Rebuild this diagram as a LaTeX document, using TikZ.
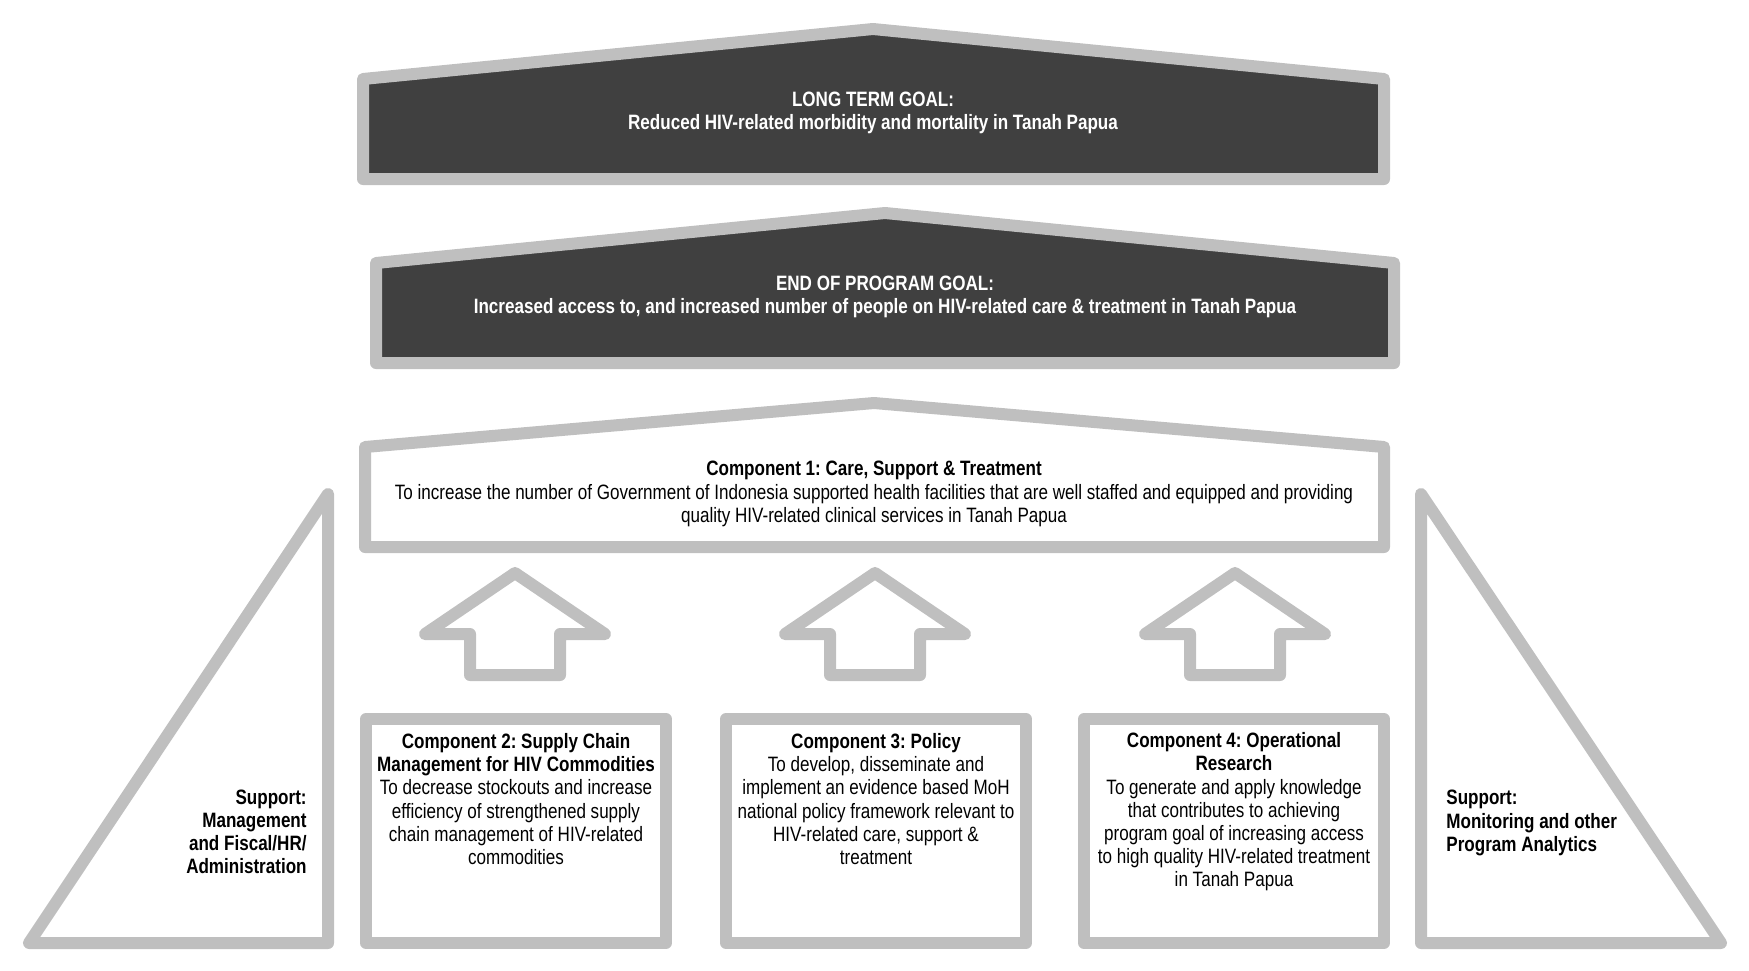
\documentclass[tikz,border=0pt]{standalone}
\usepackage{fontspec}
\setmainfont{Liberation Sans}[FakeStretch=0.82]
\frenchspacing
\definecolor{rim}{HTML}{BFBFBF}
\definecolor{darkfill}{HTML}{404040}
\tikzset{
  rimline/.style={draw=rim, line width=6pt, line join=round},
  darkbox/.style={rimline, fill=darkfill},
  whitebox/.style={rimline, fill=white},
  txt/.style={inner sep=0pt, align=center, font=\fontsize{10.4}{11.6}\selectfont},
  txtw/.style={txt, text=white, font=\fontsize{10.4}{11.6}\selectfont\bfseries},
  txtb/.style={txt, font=\fontsize{10.4}{11.6}\selectfont\bfseries},
}
\begin{document}
\begin{tikzpicture}[x=0.5pt,y=-0.5pt]
\useasboundingbox (0,0) rectangle (1749,970);
% long term goal
\draw[darkbox] (363,179) -- (363,79) -- (873,29) -- (1384,79) -- (1384,179) -- cycle;
\node[txtw] (ltg) at (873,113) {LONG TERM GOAL:\\Reduced HIV-related morbidity and mortality in Tanah Papua};
% end of program goal
\draw[darkbox] (376,363) -- (376,263) -- (885,213) -- (1394,263) -- (1394,363) -- cycle;
\node[txtw] (epg) at (885,297) {END OF PROGRAM GOAL:\\Increased access to, and increased number of people on HIV-related care \& treatment in Tanah Papua};
% component 1
\draw[whitebox] (365,547) -- (365,447) -- (874,403) -- (1384,447) -- (1384,547) -- cycle;
\node[txt] (c1) at (874,494) {\textbf{Component 1: Care, Support \& Treatment}\\To increase the number of Government of Indonesia supported health facilities that are well staffed and equipped and providing\\quality HIV-related clinical services in Tanah Papua};
% arrows
\foreach \cx in {515,875,1235}{
  \draw[rimline] (\cx,573) -- (\cx+90,634) -- (\cx+45,634) -- (\cx+45,675) -- (\cx-45,675) -- (\cx-45,634) -- (\cx-90,634) -- cycle;
}
% bottom boxes
\draw[whitebox] (366,719) rectangle (666,943);
\draw[whitebox] (726,719) rectangle (1026,943);
\draw[whitebox] (1084,719) rectangle (1384,943);
\node[txt] (c2) at (516,799) {\textbf{Component 2: Supply Chain}\\\textbf{Management for HIV Commodities}\\To decrease stockouts and increase\\efficiency of strengthened supply\\chain management of HIV-related\\commodities};
\node[txt] (c3) at (876,799) {\textbf{Component 3: Policy}\\To develop, disseminate and\\implement an evidence based MoH\\national policy framework relevant to\\HIV-related care, support \&\\treatment};
\node[txt] (c4) at (1234,812) {\textbf{Component 4: Operational}\\\textbf{Research}\\To generate and apply knowledge\\that contributes to achieving\\program goal of increasing access\\to high quality HIV-related treatment\\in Tanah Papua};
% support triangles
\draw[whitebox] (29,943) -- (328,494) -- (328,943) -- cycle;
\draw[whitebox] (1421,943) -- (1421,494) -- (1721,943) -- cycle;
\node[txtb, align=right, anchor=east] (s1) at (307,832) {Support:\\Management\\and Fiscal/HR/\\Administration};
\node[txtb, align=left, anchor=west] (s2) at (1446,823) {Support:\\Monitoring and other\\Program Analytics};
\end{tikzpicture}
\end{document}
